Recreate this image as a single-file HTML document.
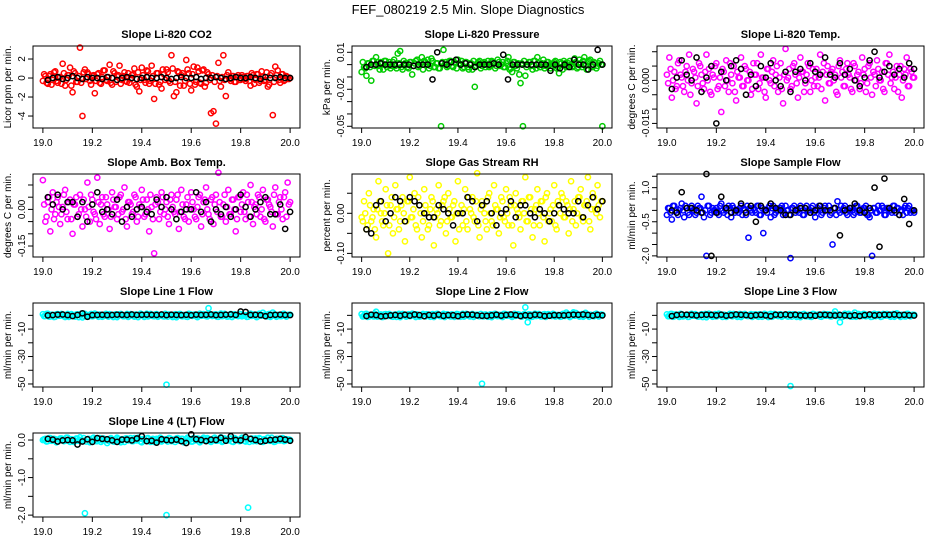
<!DOCTYPE html>
<html><head><meta charset="utf-8"><style>
html,body{margin:0;padding:0;background:#fff;}
svg{display:block;font-family:"Liberation Sans",Arial,sans-serif;}
</style></head><body>
<svg id="chart" width="936" height="540" viewBox="0 0 936 540">
<rect width="936" height="540" fill="#fff"/>
<text x="468" y="14" text-anchor="middle" font-size="13">FEF_080219  2.5 Min. Slope Diagnostics</text>
</svg>
<script>
const xTicks=[19.0,19.2,19.4,19.6,19.8,20.0];
const xTickLabels=["19.0","19.2","19.4","19.6","19.8","20.0"];

const co2Color=[-0.3,0.2,-0.6,0.4,-0.2,0.7,-0.5,0.1,1.5,-0.8,0.3,1.1,-1.5,0.5,-0.4,3.2,-4,0.9,0.6,-0.3,0.2,-1.6,0.4,-0.5,0.1,0.8,-0.3,1.4,-0.7,0.5,0.2,1.3,-0.2,0.6,-0.4,-0.5,0.3,1.0,-0.9,-1.4,1.1,-0.2,0.8,-0.6,1.3,-2.2,0.5,-0.7,-1.1,0.4,0.9,-0.3,2.4,-1.9,-1.5,0.6,0.3,-0.8,1.9,0.5,-1.3,1.2,-0.4,0.7,-0.6,0.9,-0.5,0.4,-3.7,-3.5,-4.8,1.6,-0.9,2.4,-1.9,0.6,-0.3,0.2,-0.4,0.3,-0.2,0.1,-0.3,0.2,-0.8,0.3,-0.2,0.4,-0.3,0.1,-0.2,-0.9,0.3,-3.9,1.2,0.8,-0.5,0.4,-0.2,0.1,0.0];
const co2Color2=[0.4,-0.5,0.2,-0.7,0.6,-0.3,0.1,-0.6,0.5,-0.2,0.3,-0.8,0.7,-0.4,0.2,-0.5,0.6,-0.1,0.4,-0.7,0.3,-0.3,0.5,-0.6,0.8,-0.2,0.1,-0.5,0.7,-0.4,0.3,-0.6,0.2,-0.3,0.5,-0.1,0.4,-0.7,0.6,-0.2,0.3,-0.5,0.7,-0.3,0.2,-0.6,0.5,-0.4,0.9,-0.2,0.6,-0.5,1.0,-0.4,0.7,-0.8,0.5,-0.3,0.9,-0.6,0.4,-0.7,1.1,-0.5,0.8,-0.9,0.6,-0.2,0.3,-0.4,0.2,-0.3,0.1,-0.2,0.3,-0.1,0.2,-0.4,0.1,-0.2,0.3,-0.1,0.2,-0.3,0.5,-0.6,0.4,-0.5,0.7,-0.3,0.6,-0.7,0.5,-0.4,0.3,-0.2,0.4,-0.3,0.2,-0.1];
const co2Black=[-0.2,0.0,0.1,-0.1,0.0,0.2,0.0,-0.1,0.1,0.0,0.0,-0.1,0.1,0.0,-0.2,0.0,0.1,0.0,-0.1,0.0,0.1,0.0,0.0,0.1,0.0,-0.1,0.0,0.1,0.0,0.0,0.1,-0.1,0.0,0.0,0.1,0.0,-0.1,0.0,0.1,0.0,0.0,0.1,0.0,-0.1,0.1,0.0,0.0,0.1,0.0,0.0];

const presColor=[-0.006,-0.002,-0.009,0.001,-0.013,0.003,0.006,-0.001,0.002,-0.004,0.003,0.0,-0.003,0.002,-0.001,0.009,0.011,-0.004,0.001,-0.002,0.002,-0.008,0.001,0.004,-0.001,0.006,0.003,0.0,-0.003,0.005,-0.002,0.001,-0.003,-0.05,0.012,0.002,-0.001,0.003,-0.002,0.001,0.004,0.0,-0.003,0.002,-0.002,0.001,-0.004,-0.018,0.001,0.003,-0.001,0.002,0.0,-0.002,0.003,0.001,-0.001,0.002,0.0,-0.002,0.001,0.006,-0.003,0.002,-0.001,0.001,-0.015,-0.05,-0.009,0.0,0.002,-0.004,0.003,0.006,-0.002,0.001,-0.003,0.002,0.0,-0.001,0.002,-0.003,-0.007,0.001,0.003,-0.002,0.001,0.0,-0.001,0.002,-0.002,0.001,0.003,-0.001,0.002,0.004,-0.002,0.001,-0.001,0.003,-0.05];
const presColor2=[0.002,-0.003,0.001,-0.002,0.003,-0.001,0.002,-0.004,0.001,0.003,-0.002,0.002,-0.001,0.004,-0.003,0.001,-0.002,0.003,0.0,-0.003,0.002,-0.001,0.003,-0.002,0.001,-0.004,0.002,0.004,-0.001,0.003,-0.002,0.001,-0.003,0.002,0.0,-0.002,0.003,-0.001,0.002,-0.003,0.001,0.003,-0.002,0.002,-0.004,0.001,0.003,-0.001,0.002,-0.003,0.001,-0.002,0.003,-0.001,0.002,-0.003,0.004,-0.001,0.002,-0.002,0.003,-0.004,-0.006,0.002,-0.003,-0.008,0.001,0.003,-0.002,0.002,-0.001,0.003,-0.003,0.001,-0.002,0.004,-0.001,0.002,-0.003,0.001,0.003,-0.002,0.002,-0.004,0.001,-0.001,0.003,-0.002,0.005,-0.003,0.004,-0.002,0.006,-0.004,0.003,-0.001,0.002,-0.003,0.001,0.0];
const presBlack=[-0.002,0.0,0.0,0.001,0.0,0.0,0.0,0.0,0.0,0.0,-0.001,0.0,0.0,0.0,-0.012,0.01,0.001,0.0,0.002,0.004,0.0,0.001,0.0,-0.002,0.0,0.0,0.0,0.001,0.0,0.008,-0.012,0.0,0.0,0.0,0.0,0.0,0.0,0.0,0.0,-0.005,0.0,-0.003,0.0,-0.002,0.004,0.0,0.0,-0.004,0.0,0.012,0.0];

const tempColor=[0.002,0.008,-0.006,0.003,-0.002,0.007,0.001,-0.004,0.005,0.009,-0.001,0.003,-0.008,0.006,0.002,-0.003,0.009,0.004,-0.005,0.001,0.006,-0.002,-0.011,0.003,0.007,-0.004,0.002,0.005,-0.007,0.001,0.008,-0.002,0.004,0.0,-0.005,0.006,0.002,-0.003,0.009,0.001,-0.006,0.004,-0.001,0.007,0.002,-0.004,0.006,-0.008,0.011,0.001,-0.003,0.005,0.002,-0.006,0.008,0.003,-0.001,0.006,-0.004,0.004,0.001,-0.002,0.009,0.003,-0.007,0.005,-0.001,0.004,0.002,-0.005,0.007,0.003,-0.002,0.006,0.001,-0.004,0.005,0.002,-0.003,0.008,0.004,-0.001,0.006,-0.005,0.002,0.007,0.0,0.003,-0.004,0.006,0.009,0.001,-0.003,0.005,0.002,-0.006,0.004,0.008,-0.002,0.003,0.001];
const tempColor2=[-0.001,0.004,0.0,-0.003,0.006,0.002,-0.002,0.003,0.0,-0.005,0.004,0.001,-0.002,0.005,-0.001,0.003,0.0,-0.004,0.002,0.005,-0.003,0.001,0.004,-0.002,0.0,0.006,-0.001,-0.004,0.003,0.001,-0.002,0.005,0.0,0.003,-0.003,0.002,0.006,-0.001,0.001,-0.004,0.004,0.0,0.003,-0.002,0.005,0.001,-0.003,0.002,0.0,0.004,-0.002,0.006,-0.001,0.001,0.003,-0.004,0.002,0.005,0.0,-0.002,0.004,0.001,-0.003,0.006,0.002,-0.001,0.003,0.0,-0.004,0.005,0.001,-0.002,0.004,0.002,-0.003,0.006,0.0,0.003,-0.001,0.002,-0.004,0.005,0.001,0.003,-0.002,0.004,0.0,-0.003,0.006,0.002,-0.001,0.003,0.001,-0.004,0.005,0.0,0.002,-0.002,0.004,0.001];
const tempBlack=[-0.003,0.001,0.007,0.002,0.0,0.008,-0.004,0.001,0.005,-0.015,0.003,0.0,0.005,0.007,0.004,-0.005,0.002,-0.002,0.005,0.001,0.006,0.0,-0.002,0.003,-0.004,0.003,0.004,0.0,0.006,0.003,0.002,0.008,0.002,0.001,0.006,0.002,0.004,0.0,-0.002,0.001,0.007,0.010,0.001,0.003,0.005,0.002,0.004,0.001,0.006,0.004];

const ambColor=[0.12,-0.05,0.03,-0.09,0.07,-0.02,0.05,-0.06,0.01,0.08,-0.04,0.04,-0.1,0.02,-0.03,0.06,-0.07,0.0,0.11,-0.05,0.04,-0.02,0.13,-0.06,0.05,-0.03,0.02,-0.08,0.07,0.01,-0.04,0.05,-0.01,0.09,-0.07,0.03,-0.02,0.06,-0.05,0.02,0.08,-0.03,0.04,-0.09,0.01,-0.18,0.05,-0.04,0.07,-0.02,0.03,-0.06,0.06,-0.01,0.04,-0.08,0.08,-0.03,0.02,-0.05,0.07,0.0,-0.04,0.05,-0.07,0.03,0.09,-0.02,0.04,-0.06,0.06,0.15,-0.03,0.02,-0.05,0.08,-0.02,0.04,-0.09,0.05,-0.01,0.07,-0.04,0.03,0.1,-0.06,0.02,0.06,-0.03,0.08,-0.05,0.04,0.01,-0.07,0.09,-0.02,0.05,-0.04,0.07,0.11,0.03];
const ambColor2=[0.02,-0.03,0.05,0.0,-0.04,0.03,0.01,-0.02,0.06,-0.01,0.03,-0.04,0.02,0.05,-0.02,0.0,0.04,-0.03,0.01,0.06,-0.01,-0.04,0.03,0.02,-0.02,0.05,0.0,-0.03,0.04,0.01,-0.02,0.06,0.0,-0.04,0.03,0.02,-0.01,0.05,-0.03,0.01,0.04,-0.02,0.0,0.06,-0.04,0.02,0.03,-0.01,0.05,0.0,-0.03,0.04,0.01,-0.02,0.06,-0.01,0.02,-0.04,0.05,0.0,0.03,-0.03,0.01,0.06,-0.02,0.04,0.0,-0.04,0.05,0.02,-0.01,0.03,-0.03,0.06,0.01,-0.02,0.04,0.0,-0.04,0.05,0.02,-0.01,0.06,-0.03,0.03,0.01,-0.02,0.05,0.0,-0.04,0.04,0.02,-0.01,0.06,-0.02,0.03,0.0,0.05,-0.03,0.02];
const ambBlack=[0.05,0.02,0.06,0.0,0.03,0.03,-0.03,0.03,-0.05,0.02,0.07,-0.01,0.0,-0.02,0.04,-0.05,0.01,-0.03,0.0,0.01,-0.01,-0.02,0.04,0.01,0.05,0.0,-0.04,-0.01,0.0,0.0,0.07,-0.01,0.03,-0.05,0.0,-0.02,0.01,-0.03,0.0,0.06,0.01,-0.03,0.0,0.03,0.05,-0.02,-0.02,0.02,-0.08,-0.01];

const rhColor=[-0.01,0.03,-0.04,0.05,-0.02,0.01,-0.06,0.08,0.0,-0.03,0.06,-0.1,0.02,-0.05,0.07,0.01,-0.02,0.04,-0.07,0.03,0.09,-0.01,0.05,-0.04,0.02,-0.06,0.06,0.0,-0.03,0.04,-0.08,0.01,0.07,-0.02,0.03,-0.05,0.05,-0.01,0.02,-0.07,0.08,0.0,-0.03,0.06,-0.04,0.01,0.04,-0.02,0.1,-0.06,0.03,0.0,-0.04,0.05,-0.02,0.07,0.01,-0.05,0.04,-0.01,0.06,-0.03,0.02,-0.08,0.05,0.0,-0.04,0.03,0.09,-0.02,0.04,-0.06,0.01,0.06,-0.03,0.03,-0.07,0.05,0.0,-0.02,0.07,-0.04,0.02,0.05,-0.01,0.03,-0.05,0.08,0.01,-0.03,0.04,0.06,-0.02,0.02,0.09,-0.04,0.05,0.01,0.07,-0.01,0.03];
const rhColor2=[-0.02,0.0,-0.03,0.02,-0.01,-0.04,0.01,0.03,-0.02,0.0,0.02,-0.03,0.04,-0.01,0.01,-0.04,0.02,0.0,-0.02,0.03,-0.01,0.01,-0.03,0.04,0.0,-0.02,0.02,-0.04,0.01,0.03,-0.01,0.0,-0.03,0.02,0.04,-0.02,0.01,-0.01,0.03,0.0,-0.04,0.02,0.01,-0.02,0.04,0.0,-0.01,0.03,-0.03,0.01,0.02,-0.02,0.04,0.0,-0.03,0.02,0.01,-0.01,0.03,-0.02,0.0,0.04,-0.03,0.02,0.01,-0.01,0.03,0.0,-0.02,0.04,0.01,-0.03,0.02,0.0,0.03,-0.01,0.04,-0.02,0.01,0.02,-0.03,0.03,0.0,0.04,-0.01,0.02,0.01,-0.02,0.03,0.0,0.04,-0.01,0.02,0.03,-0.02,0.01,0.04,0.0,0.02,0.03];
const rhBlack=[-0.04,-0.05,0.02,0.03,-0.02,0.0,0.04,0.03,-0.02,0.04,0.03,0.02,0.0,-0.01,-0.01,0.02,0.01,0.0,-0.03,0.0,0.0,0.04,0.03,-0.02,0.02,0.03,0.0,-0.03,0.0,0.01,0.03,-0.01,0.02,0.02,0.0,-0.01,0.01,0.0,-0.02,0.0,0.02,0.01,0.0,0.0,0.03,-0.01,0.02,0.04,0.01,0.03];

const flowColor=[-0.2,0.1,-0.4,0.2,-0.1,0.0,0.3,-0.3,0.1,-0.2,0.2,0.0,-0.1,0.1,0.6,-0.3,-2.0,0.2,-0.1,0.0,0.1,-0.2,0.3,-0.1,0.0,0.2,-0.3,0.1,0.0,-0.1,0.2,0.1,-0.2,-1.2,0.0,0.1,-0.1,0.2,-0.2,-1.0,0.0,0.1,-0.3,0.2,-0.1,0.0,0.1,-0.2,0.2,0.0,-2.1,0.1,-0.1,0.0,0.2,-0.2,0.1,0.0,-0.1,0.2,-0.3,0.1,0.0,-0.1,0.2,0.0,-0.2,-1.5,0.1,0.4,-0.1,0.0,0.2,-0.2,0.1,0.0,-0.1,0.2,-0.1,0.0,0.1,-0.2,-0.3,-2.0,0.1,-0.1,0.0,0.2,-0.2,0.1,0.0,-0.1,0.2,0.1,-0.2,0.0,0.1,-0.1,0.2,0.0,-0.1];
const flowColor2=[0.1,-0.1,0.2,0.0,-0.2,0.1,0.0,0.2,-0.1,0.1,0.0,-0.2,0.2,0.1,-0.1,0.0,0.2,-0.2,0.1,0.0,-0.1,0.2,0.0,0.1,-0.2,0.1,0.2,-0.1,0.0,0.1,-0.2,0.0,0.2,0.1,-0.1,0.0,0.2,-0.2,0.1,0.0,-0.1,0.2,0.1,-0.2,0.0,0.1,0.2,-0.1,0.0,-0.2,0.1,0.2,0.0,-0.1,0.1,-0.2,0.2,0.0,0.1,-0.1,0.0,0.2,-0.2,0.1,0.0,0.2,-0.1,0.1,-0.2,0.0,0.2,0.1,-0.1,0.0,0.1,-0.2,0.2,0.0,-0.1,0.1,0.2,-0.2,0.0,0.1,-0.1,0.2,0.0,0.1,-0.2,0.1,0.0,0.2,-0.1,0.1,0.0,-0.2,0.2,0.1,-0.1,0.0];
const flowBlack=[0.0,-0.1,0.8,0.1,0.1,0.0,-0.1,1.6,-2.0,-0.1,0.6,0.1,-0.1,0.0,0.3,-0.1,0.2,-0.5,0.2,0.0,0.3,0.1,0.0,-0.2,-0.2,0.0,0.1,0.1,-0.1,0.0,0.2,0.0,0.0,0.1,-1.1,0.0,0.1,0.3,0.0,-0.1,0.1,1.0,-1.6,1.4,0.1,0.0,-0.2,0.5,-0.6,0.0];

const line1Color=[0.8,-0.5,1.2,-0.8,0.3,-1.0,0.9,-0.2,0.5,-1.2,1.0,-0.4,0.2,-0.9,0.7,0.0,-1.5,1.1,-0.3,0.4,-0.7,1.3,-0.1,0.6,-1.0,0.2,-0.5,0.9,-0.2,0.4,-1.3,0.8,0.1,-0.6,1.0,-0.3,0.5,-0.9,0.3,-0.1,0.7,-1.1,1.2,-0.4,0.2,-0.7,0.9,-0.2,0.4,-0.8,-50.5,0.6,-0.3,0.1,-1.4,0.8,-0.5,0.3,-0.9,1.1,-0.1,0.5,-0.7,0.2,-0.3,0.9,-0.6,5.2,0.4,-0.2,0.7,-1.0,1.3,-0.4,0.2,-0.8,1.0,-0.1,0.4,-0.6,0.8,-0.3,0.1,-0.9,1.2,-0.2,0.5,-0.7,0.3,1.9,-0.4,0.6,-1.1,2.0,-0.2,0.4,-0.6,0.9,-0.3,0.2,0.5];
const line1Color2=[-0.6,1.1,-0.9,0.5,-1.2,0.8,-0.3,1.0,-0.7,0.2,-1.1,0.9,-0.4,0.6,-1.3,1.2,-0.2,0.4,-0.8,1.0,-0.5,0.7,-1.0,0.3,-0.6,1.1,-0.9,0.5,-1.2,0.8,-0.3,1.0,-0.7,0.2,-1.1,0.9,-0.4,0.6,-1.3,1.2,-0.2,0.4,-0.8,1.0,-0.5,0.7,-1.0,0.3,-0.6,1.1,-0.9,0.5,-1.2,0.8,-0.3,1.0,-0.7,0.2,-1.1,0.9,-0.4,0.6,-1.3,1.2,-0.2,0.4,-0.8,1.0,-0.5,0.7,-1.0,0.3,-0.6,1.1,-0.9,0.5,-1.2,0.8,-0.3,1.0,-0.7,0.2,-1.1,0.9,-0.4,0.6,-1.3,1.2,-0.2,0.4,-0.8,1.0,-0.5,0.7,-1.0,0.3,-0.6,1.1,-0.9,0.5];
const line1Black=[0.0,0.2,0.5,0.6,0.2,-0.5,0.3,1.5,-1.0,0.2,0.3,0.4,0.2,0.3,0.5,0.4,0.3,0.6,0.3,0.4,0.5,0.4,0.3,0.6,0.2,0.5,0.3,0.2,0.4,0.1,0.5,0.3,0.4,0.6,0.2,0.3,0.5,0.7,0.3,2.8,2.5,0.3,0.4,0.2,-0.6,0.3,0.4,0.5,0.3,0.2];

const line2Color=[0.9,-0.4,1.1,-0.9,0.4,-0.8,2.6,-0.3,0.6,-1.1,0.9,-0.5,0.3,-1.0,0.6,0.1,-1.3,1.0,-0.2,0.5,-0.6,1.2,-0.2,0.7,-0.9,0.3,-0.6,0.8,-0.1,0.5,-1.2,0.9,0.0,-0.7,1.1,-0.2,0.4,-0.8,0.2,-0.2,0.8,-1.0,1.1,-0.3,0.3,-0.8,1.0,-0.1,0.5,-0.7,-49.8,0.5,-0.2,0.2,-1.3,0.9,-0.4,0.4,-0.8,1.0,-0.2,0.6,-0.6,0.3,-0.4,0.8,-0.5,0.2,5.8,-5.0,0.6,-0.9,1.2,-0.3,0.3,-0.7,0.9,-0.2,0.5,-0.5,0.7,-0.4,0.2,-0.8,1.1,2.0,0.6,-0.6,2.2,1.7,-0.3,0.5,-1.0,1.8,-0.1,0.5,-0.5,0.8,-0.2,0.3,0.4];
const line2Color2=[-0.8,0.9,-1.1,0.4,-0.5,1.2,-0.9,0.3,-1.2,0.7,-0.2,1.0,-0.8,0.5,-1.1,1.1,-0.3,0.6,-0.9,0.8,-0.4,0.9,-1.2,0.2,-0.7,1.0,-0.8,0.6,-1.0,0.9,-0.2,1.1,-0.6,0.3,-1.2,0.8,-0.5,0.7,-1.1,1.0,-0.3,0.5,-0.9,1.1,-0.4,0.6,-1.1,0.4,-0.5,1.0,-0.8,0.6,-1.0,0.7,-0.4,1.1,-0.6,0.3,-1.2,1.0,-0.3,0.5,-1.1,1.1,-0.2,0.5,-0.9,0.9,-0.6,0.8,-1.1,0.4,-0.5,1.0,-0.8,0.6,-1.1,0.9,-0.2,1.1,-0.8,0.3,-1.0,1.0,-0.5,0.7,-1.2,1.1,-0.3,0.5,-0.9,0.9,-0.4,0.8,-1.0,0.2,-0.7,1.2,-0.8,0.6];
const line2Black=[-0.5,0.5,0.2,-0.7,-0.5,0.0,0.3,-0.3,0.5,-0.2,0.6,0.2,-0.6,0.3,-0.2,0.5,-0.4,0.2,0.1,-0.6,0.4,0.6,0.5,0.0,-0.3,-0.4,0.0,0.5,-0.2,0.3,0.6,0.2,-0.5,0.1,-0.2,0.5,0.3,-0.5,-0.3,0.2,0.1,0.0,0.3,0.5,0.4,0.6,0.3,-0.2,0.4,0.0];

const line3Color=[0.7,-0.6,1.0,-0.7,0.2,-1.1,0.8,-0.3,0.4,-1.0,1.1,-0.3,0.1,-0.8,0.8,0.1,-1.4,1.2,-0.4,0.3,-0.8,1.2,0.0,0.5,-1.1,0.3,-0.4,1.0,-0.3,0.3,-1.2,0.7,0.2,-0.5,0.9,-0.4,0.6,-1.0,0.2,0.0,0.6,-1.2,1.1,-0.5,0.3,-0.6,0.8,-0.3,0.5,-0.9,-51.5,0.7,-0.4,0.2,-1.3,0.7,-0.6,0.2,-1.0,1.0,-0.2,0.4,-0.8,0.3,-0.2,0.8,-0.7,0.2,2.8,-0.3,-5.0,-1.1,1.2,-0.5,0.3,-0.9,2.0,-0.2,0.3,-0.5,0.9,-0.4,0.2,-1.0,1.1,-0.3,0.4,-0.8,0.2,1.0,-0.5,0.7,-1.0,1.5,-0.3,0.5,-0.7,1.0,-0.2,0.1,0.4];
const line3Color2=[-0.7,1.0,-1.0,0.6,-0.4,1.1,-0.8,0.2,-1.1,0.8,-0.3,0.9,-0.9,0.4,-1.2,1.0,-0.2,0.7,-1.0,0.9,-0.5,0.8,-1.1,0.3,-0.6,1.1,-0.7,0.5,-1.1,1.0,-0.3,1.0,-0.5,0.4,-1.1,0.7,-0.6,0.8,-1.0,1.1,-0.2,0.6,-1.0,1.0,-0.3,0.7,-1.0,0.5,-0.6,0.9,-0.9,0.7,-1.1,0.6,-0.5,1.0,-0.7,0.4,-1.1,0.9,-0.2,0.6,-1.0,1.0,-0.3,0.6,-0.8,1.0,-0.5,0.7,-1.0,0.5,-0.4,1.1,-0.9,0.5,-1.0,1.0,-0.3,1.0,-0.7,0.4,-1.1,0.9,-0.6,0.8,-1.1,1.0,-0.2,0.6,-1.0,1.0,-0.3,0.7,-1.1,0.3,-0.8,1.1,-0.7,0.5];
const line3Black=[-0.5,0.3,0.6,0.5,0.4,0.0,0.3,0.5,0.4,0.0,0.5,-0.2,0.1,0.6,0.4,0.2,-0.3,0.2,0.4,0.0,-0.6,0.5,0.3,0.6,0.2,0.5,0.0,-0.2,0.1,-0.3,0.5,0.4,0.2,-0.1,0.3,0.0,-0.4,0.1,-0.5,0.2,0.6,0.0,0.3,0.5,0.4,0.6,0.2,0.4,0.1,-0.1];

const line4Color=[0.0,0.03,-0.03,0.05,-0.01,0.02,-0.04,0.04,0.0,-0.02,0.06,-0.05,0.01,-0.03,0.03,0.07,-0.02,-1.95,0.02,-0.06,0.04,0.0,-0.03,0.05,-0.01,0.02,-0.08,0.03,0.01,-0.04,0.06,-0.02,0.02,-0.05,0.04,0.0,-0.03,0.05,-0.01,0.03,-0.06,0.02,0.04,-0.02,0.01,-0.05,0.03,0.0,-0.04,0.02,-2.0,0.05,-0.03,0.01,0.04,-0.02,0.03,-0.06,0.02,0.0,-0.04,0.05,-0.01,0.03,-0.03,0.06,0.0,0.02,-0.05,0.04,-0.02,0.01,0.07,-0.03,0.02,-0.01,0.04,-0.05,0.03,0.0,-0.02,0.05,-0.04,-1.8,0.02,-0.03,0.04,-0.01,0.03,-0.05,0.02,0.06,-0.02,0.0,-0.04,0.03,-0.01,0.05,-0.02,0.01,0.0];
const line4Color2=[0.02,-0.04,0.05,-0.02,0.03,-0.06,0.01,0.04,-0.03,0.06,-0.01,0.02,-0.05,0.04,-0.02,0.0,0.05,-0.04,0.03,-0.01,0.06,-0.03,0.02,-0.05,0.04,0.0,-0.02,0.05,-0.04,0.01,0.03,-0.06,0.02,0.04,-0.01,0.05,-0.03,0.0,0.06,-0.04,0.02,-0.02,0.05,-0.05,0.03,0.01,-0.03,0.06,-0.01,0.02,-0.04,0.04,0.0,-0.05,0.05,-0.02,0.03,-0.03,0.06,0.01,-0.04,0.02,0.04,-0.06,0.03,-0.01,0.05,-0.03,0.0,0.06,-0.02,0.02,-0.05,0.04,-0.01,0.03,-0.04,0.05,0.0,-0.03,0.06,-0.02,0.02,-0.05,0.04,0.01,-0.03,0.05,-0.04,0.02,0.0,-0.02,0.06,-0.05,0.03,-0.01,0.04,-0.03,0.02,0.01];
const line4Black=[0.03,0.01,-0.04,-0.01,0.0,-0.01,-0.12,-0.04,0.02,-0.05,0.05,0.03,0.02,-0.01,-0.05,0.01,0.01,-0.01,0.04,0.1,-0.03,-0.02,-0.07,0.02,0.0,-0.01,0.01,-0.03,-0.08,0.15,0.02,0.0,-0.03,0.01,0.0,0.06,-0.02,0.1,0.0,-0.01,0.08,0.03,0.0,-0.04,-0.02,0.0,0.01,0.03,0.01,-0.02];

const panels=[
 {name:"co2",title:"Slope Li-820 CO2",ylab:"Licor ppm per min.",col:0,row:0,ylim:[-5.26,3.37],ticks:[-4,-2,0,2],labels:["-4","-2","0","2"],color:"#ff0000",cv:co2Color,cv2:co2Color2,bv:co2Black},
 {name:"pressure",title:"Slope Li-820 Pressure",ylab:"kPa per min.",col:1,row:0,ylim:[-0.0514,0.0151],ticks:[0.01,0.0,-0.01,-0.02,-0.03,-0.04,-0.05],labels:["0.01","","","-0.02","","","-0.05"],color:"#00cc00",cv:presColor,cv2:presColor2,bv:presBlack},
 {name:"temp",title:"Slope Li-820 Temp.",ylab:"degrees C per min.",col:2,row:0,ylim:[-0.0166,0.012],ticks:[0.01,0.005,0,-0.005,-0.01,-0.015],labels:["","","0.000","","","-0.015"],color:"#ff00ff",cv:tempColor,cv2:tempColor2,bv:tempBlack},
 {name:"amb-box-temp",title:"Slope Amb. Box Temp.",ylab:"degrees C per min.",col:0,row:1,ylim:[-0.195,0.145],ticks:[0.1,0.05,0,-0.05,-0.1,-0.15],labels:["","","0.00","","","-0.15"],color:"#ff00ff",cv:ambColor,cv2:ambColor2,bv:ambBlack},
 {name:"gas-stream-rh",title:"Slope Gas Stream RH",ylab:"percent per min.",col:1,row:1,ylim:[-0.109,0.098],ticks:[0.05,0,-0.05,-0.1],labels:["","0.00","","-0.10"],color:"#ffff00",cv:rhColor,cv2:rhColor2,bv:rhBlack},
 {name:"sample-flow",title:"Slope Sample Flow",ylab:"ml/min per min.",col:2,row:1,ylim:[-2.05,1.6],ticks:[1.5,1.0,0.5,0,-0.5,-1.0,-1.5,-2.0],labels:["","1.0","","","-0.5","","","-2.0"],color:"#0000ff",cv:flowColor,cv2:flowColor2,bv:flowBlack},
 {name:"line1-flow",title:"Slope Line 1 Flow",ylab:"ml/min per min.",col:0,row:2,ylim:[-52.2,9.0],ticks:[0,-10,-20,-30,-40,-50],labels:["","-10","","-30","","-50"],color:"#00ffff",cv:line1Color,cv2:line1Color2,bv:line1Black},
 {name:"line2-flow",title:"Slope Line 2 Flow",ylab:"ml/min per min.",col:1,row:2,ylim:[-52.2,9.0],ticks:[0,-10,-20,-30,-40,-50],labels:["","-10","","-30","","-50"],color:"#00ffff",cv:line2Color,cv2:line2Color2,bv:line2Black},
 {name:"line3-flow",title:"Slope Line 3 Flow",ylab:"ml/min per min.",col:2,row:2,ylim:[-52.2,9.0],ticks:[0,-10,-20,-30,-40,-50],labels:["","-10","","-30","","-50"],color:"#00ffff",cv:line3Color,cv2:line3Color2,bv:line3Black},
 {name:"line4-flow",title:"Slope Line 4 (LT) Flow",ylab:"ml/min per min.",col:0,row:3,ylim:[-2.05,0.187],ticks:[0,-0.5,-1.0,-1.5,-2.0],labels:["0.0","","-1.0","","-2.0"],color:"#00ffff",cv:line4Color,cv2:line4Color2,bv:line4Black}
];
const colBox=[[33,300],[352,612],[657,924]];
const rowBox=[[46,128],[174,257],[303,387],[433,517]];
const xlim=[18.96,20.04];
const NS="http://www.w3.org/2000/svg";
const svg=document.getElementById('chart');
function mk(tag,attrs,parent){const e=document.createElementNS(NS,tag);for(const k in attrs)e.setAttribute(k,attrs[k]);(parent||svg).appendChild(e);return e;}

panels.forEach(p=>{
  const [x0,x1]=colBox[p.col],[y0,y1]=rowBox[p.row];
  const sx=v=>x0+(v-xlim[0])/(xlim[1]-xlim[0])*(x1-x0);
  const sy=v=>y1-(v-p.ylim[0])/(p.ylim[1]-p.ylim[0])*(y1-y0);
  const g=mk('g',{});
  
  
  const t=mk('text',{x:(x0+x1)/2,y:y0-8,'text-anchor':'middle','font-size':'11','font-weight':'bold'},g);
  t.textContent=p.title;
  
  
  const yl=mk('text',{x:0,y:0,'text-anchor':'middle','font-size':'10',transform:`translate(${x0-22},${(y0+y1)/2}) rotate(-90)`},g);
  yl.textContent=p.ylab;
  
  
  const pts=mk('g',{},g);
  
  
  p.cv.forEach((v,i)=>{
    const c=mk('circle',{cx:sx(19+i/(p.cv.length-1)),cy:sy(v),r:2.6,fill:'none',stroke:p.color,'stroke-width':1.5},pts);
    
    
  });
  p.cv2.forEach((v,i)=>{
    const c=mk('circle',{cx:sx(19.005+i*0.99/(p.cv2.length-1)),cy:sy(v),r:2.6,fill:'none',stroke:p.color,'stroke-width':1.5},pts);
    
    
  });
  p.bv.forEach((v,i)=>{
    const c=mk('circle',{cx:sx(19.02+i*0.98/(p.bv.length-1)),cy:sy(v),r:2.6,fill:'none',stroke:'#000','stroke-width':1.5},pts);
    
    
  });
  const box=mk('rect',{x:x0,y:y0,width:x1-x0,height:y1-y0,fill:'none',stroke:'#000','stroke-width':1},g);
  
  
  xTicks.forEach((v,i)=>{
    const tk=mk('line',{x1:sx(v),x2:sx(v),y1:y1,y2:y1+5,stroke:'#000'},g);
    
    
    const tl=mk('text',{x:sx(v),y:y1+18,'text-anchor':'middle','font-size':'10'},g);
    tl.textContent=xTickLabels[i];
    
    
  });
  p.ticks.forEach((v,i)=>{
    const tk=mk('line',{x1:x0-5,x2:x0,y1:sy(v),y2:sy(v),stroke:'#000'},g);
    
    
    if(p.labels[i]){
      const tl=mk('text',{x:0,y:0,'text-anchor':'middle','font-size':'10',transform:`translate(${x0-8},${sy(v)}) rotate(-90)`},g);
      tl.textContent=p.labels[i];
      
      
    }
  });
});
</script>
</body></html>
